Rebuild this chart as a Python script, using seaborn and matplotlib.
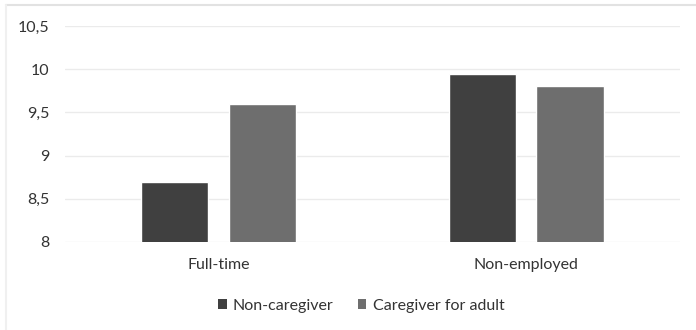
import matplotlib
matplotlib.use("Agg")
import matplotlib.pyplot as plt
import seaborn as sns
import pandas as pd
from matplotlib.patches import Patch
from matplotlib.lines import Line2D

categories = ["Full-time", "Non-employed"]
groups = ["Non-caregiver", "Caregiver for adult"]
non_caregiver = [8.7, 9.94]
caregiver_adult = [9.6, 9.8]
y_ticks = [8, 8.5, 9, 9.5, 10, 10.5]
y_tick_labels = ["8", "8,5", "9", "9,5", "10", "10,5"]

df = pd.DataFrame({
    "status": categories * 2,
    "group": [groups[0]] * len(categories) + [groups[1]] * len(categories),
    "value": non_caregiver + caregiver_adult,
})
colors = {"Non-caregiver": "#404040", "Caregiver for adult": "#6e6e6e"}

sns.set_theme(style="white")
plt.rcParams["font.family"] = ["Lato", "DejaVu Sans"]

fig = plt.figure(figsize=(6.96, 3.30), dpi=100)
ax = fig.add_axes([0.0934, 0.2667, 0.8836, 0.6545])

sns.barplot(data=df, x="status", y="value", hue="group", palette=colors,
            width=0.57, gap=0.234, ax=ax, legend=False, bottom=0)

ax.set_ylim(8, 10.5)
ax.set_xlim(-0.5, 1.5)
ax.set_yticks(y_ticks)
ax.set_yticklabels(y_tick_labels)
ax.grid(axis="y", color="#ebebeb", linewidth=1)
ax.set_axisbelow(True)
for s in ax.spines.values():
    s.set_visible(False)
ax.tick_params(axis="both", length=0, labelsize=11.5, colors="#333333")
ax.tick_params(axis="y", pad=11)
ax.tick_params(axis="x", pad=11.5)
ax.set_xlabel("")
ax.set_ylabel("")

handles = [Patch(facecolor=colors[g], edgecolor="none") for g in groups]
fig.legend(handles, groups, loc="center", bbox_to_anchor=(0.519, 0.074), ncol=2,
           frameon=False, fontsize=11.5, handlelength=0.55, handleheight=0.55,
           handletextpad=0.4, columnspacing=1.5, labelcolor="#333333")

# faint frame edges along the top and left of the chart area
fig.add_artist(Line2D([0.008, 1.0], [0.985, 0.985], transform=fig.transFigure,
                      color="#e2e2e2", linewidth=1.5))
fig.add_artist(Line2D([0.008, 0.008], [0.0, 0.985], transform=fig.transFigure,
                      color="#f0f0f0", linewidth=1.5))

fig.savefig("out.png", dpi=100)
